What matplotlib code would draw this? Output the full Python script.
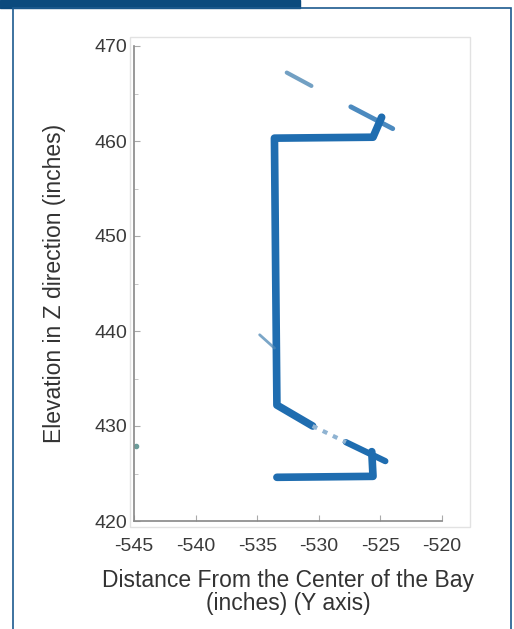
import numpy as np
import matplotlib
matplotlib.use("Agg")
import matplotlib.pyplot as plt
from matplotlib.patches import Rectangle

plt.rcParams['font.family'] = ['Liberation Sans', 'DejaVu Sans']
plt.rcParams['axes.unicode_minus'] = False

# point-cloud traces, as (Y, Z) vertices
main_y = [-533.4, -525.6, -525.7]
main_z = [424.6, 424.7, 427.3]
low_diag_y = [-527.8, -524.6]
low_diag_z = [428.3, 426.3]
gap_y = [-530.5, -527.8]
gap_z = [430.0, 428.3]
web_y = [-530.5, -533.4, -533.5, -533.6, -525.6, -524.9]
web_z = [430.0, 432.2, 446.0, 460.3, 460.4, 462.5]
flange_y = [-527.4, -524.0]
flange_z = [463.6, 461.3]
top_y = [-532.6, -530.6]
top_z = [467.2, 465.8]
tick_y = [-534.8, -533.6]
tick_z = [439.6, 438.2]
dot_y = [-544.8]
dot_z = [427.9]

blue = '#1f6db0'

fig = plt.figure(figsize=(5.14, 6.29), dpi=100)

# page frame / header bar
fig.patches.append(Rectangle((0, 1 - 8 / 629), 300 / 514, 8 / 629, transform=fig.transFigure,
                             color='#0b4a7d', zorder=0))
fig.patches.append(Rectangle((13 / 514, -0.01), 498 / 514, 1 - 8 / 629 + 0.01, transform=fig.transFigure,
                             fill=False, edgecolor='#1d5a8f', lw=1.2, zorder=0))
# faint outer box around axes
fig.patches.append(Rectangle((130 / 514, 1 - 527 / 629), 340 / 514, 490 / 629, transform=fig.transFigure,
                             fill=False, edgecolor='#e2e2e2', lw=1, zorder=0))

ax = fig.add_axes([134 / 514, 1 - 521 / 629, 308 / 514, 475 / 629])

ax.plot(main_y, main_z, color=blue, lw=5.5, solid_capstyle='round', solid_joinstyle='round')
ax.plot(web_y, web_z, color=blue, lw=5.5, solid_capstyle='round', solid_joinstyle='round')
ax.plot(low_diag_y, low_diag_z, color=blue, lw=4.5, solid_capstyle='round')
ax.plot(gap_y, gap_z, color='#8fb3d2', lw=3, ls=(0, (1.2, 1.5)))
ax.plot(flange_y, flange_z, color=blue, lw=3.5, alpha=0.8, solid_capstyle='round')
ax.plot(top_y, top_z, color='#4f88b5', lw=3, alpha=0.8, solid_capstyle='round')
ax.plot(tick_y, tick_z, color='#4f88b5', lw=2, alpha=0.75, solid_capstyle='round')
ax.plot(dot_y, dot_z, 'o', color='#6b9c9a', ms=3)

ax.set_xlim(-545, -520)
ax.set_ylim(420, 470)
ax.set_xticks([-545, -540, -535, -530, -525, -520])
ax.set_yticks([420, 430, 440, 450, 460, 470])
ax.set_yticks(np.arange(425, 470, 10), minor=True)
for s in ['top', 'right']:
    ax.spines[s].set_visible(False)
for s in ['left', 'bottom']:
    ax.spines[s].set_color('#888888')
    ax.spines[s].set_linewidth(1.2)
ax.tick_params(direction='in', length=4, color='#aaaaaa', labelsize=14, labelcolor='#3a3a3a')
ax.tick_params(axis='x', pad=12)
ax.tick_params(axis='y', pad=5)
ax.tick_params(which='minor', direction='in', length=3, color='#bbbbbb')

ax.set_xlabel('Distance From the Center of the Bay\n(inches) (Y axis)', fontsize=16.5,
              color='#333333', labelpad=10, linespacing=1.05)
ax.set_ylabel('Elevation in Z direction (inches)', fontsize=16.5, color='#333333', labelpad=20)

fig.savefig('out.png', dpi=100)
